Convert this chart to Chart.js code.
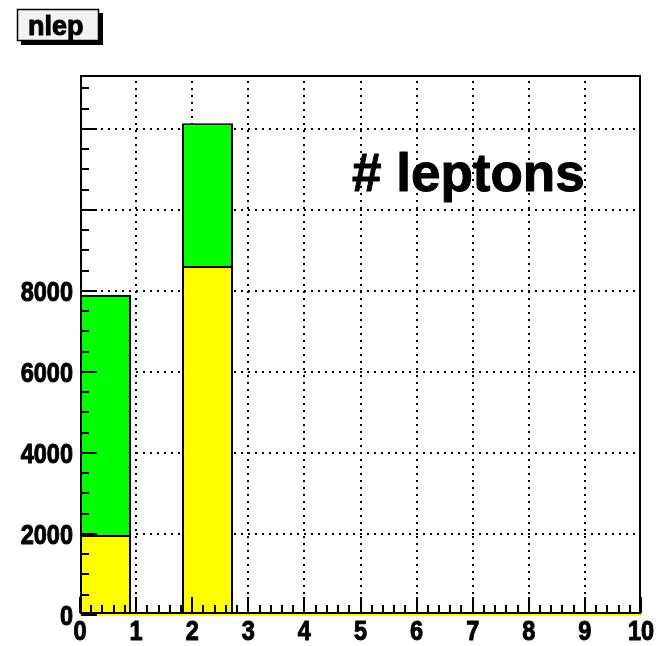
<!DOCTYPE html>
<html>
<head>
<meta charset="utf-8">
<script src="https://cdn.jsdelivr.net/npm/chart.js@4/dist/chart.umd.min.js"></script>
<style>
  html, body { margin: 0; padding: 0; background: #ffffff; }
  #wrap { width: 666px; height: 646px; }
</style>
</head>
<body>
<div id="wrap"><canvas id="c" width="666" height="646"></canvas></div>
<script>
// nlep histogram: 11 bins spanning 0..10
const binLabels = ['b0', 'b1', 'b2', 'b3', 'b4', 'b5', 'b6', 'b7', 'b8', 'b9', 'b10'];
const allEvents = [7900, 0, 12140, 0, 0, 0, 0, 0, 0, 0, 0];
const selectedEvents = [1975, 0, 8620, 0, 0, 0, 0, 0, 0, 0, 0];
const baselineX = [0, 10];
const baselineY = [0, 0];

// axis ticks and labels
const xMajorTicks = [0, 1, 2, 3, 4, 5, 6, 7, 8, 9, 10];
const xTickLabels = ['0', '1', '2', '3', '4', '5', '6', '7', '8', '9', '10'];
const yMajorTicks = [0, 2000, 4000, 6000, 8000, 10000, 12000];
const yTickLabels = ['0', '2000', '4000', '6000', '8000', '', ''];
const xMinorStep = 0.2;
const yMinorStep = 500;
const xRange = [0, 10];
const yRange = [0, 13333];

const titleText = 'nlep';
const histText = '# leptons';

const FONT = '"Liberation Sans", Arial, Helvetica, sans-serif';

function scaledText(ctx, text, x, y, size, sx, align, weight) {
  ctx.save();
  ctx.font = 'bold ' + size + 'px ' + FONT;
  ctx.textBaseline = 'alphabetic';
  const w = ctx.measureText(text).width * sx;
  let left = x;
  if (align === 'right') left = x - w;
  else if (align === 'center') left = x - w / 2;
  ctx.translate(left, y);
  ctx.scale(sx, 1);
  ctx.textAlign = 'left';
  ctx.fillStyle = '#000';
  ctx.fillText(text, 0, 0);
  if (weight) {
    ctx.strokeStyle = '#000';
    ctx.lineWidth = weight;
    ctx.lineJoin = 'round';
    ctx.strokeText(text, 0, 0);
  }
  ctx.restore();
}

const rootFrame = {
  id: 'rootFrame',
  beforeDatasetsDraw(chart) {
    const ctx = chart.ctx;
    const a = chart.chartArea;
    const xs = chart.scales.x, ys = chart.scales.y;
    ctx.save();
    ctx.strokeStyle = '#000';
    ctx.lineWidth = 2;
    ctx.setLineDash([2, 5]);
    xMajorTicks.forEach(v => {
      if (v <= xRange[0] || v >= xRange[1]) return;
      const p = Math.round(xs.getPixelForValue(v));
      ctx.beginPath(); ctx.moveTo(p, a.bottom); ctx.lineTo(p, a.top); ctx.stroke();
    });
    yMajorTicks.forEach(v => {
      if (v <= yRange[0] || v >= yRange[1]) return;
      const p = Math.round(ys.getPixelForValue(v));
      ctx.beginPath(); ctx.moveTo(a.left, p); ctx.lineTo(a.right, p); ctx.stroke();
    });
    ctx.restore();
  },
  afterDatasetsDraw(chart) {
    const ctx = chart.ctx;
    const a = chart.chartArea;
    const xs = chart.scales.x, ys = chart.scales.y;
    ctx.save();
    ctx.strokeStyle = '#000';
    ctx.lineWidth = 2;
    ctx.setLineDash([]);

    // frame
    ctx.beginPath();
    ctx.rect(a.left + 1, a.top + 1, a.right - a.left - 2, a.bottom - a.top - 3);
    ctx.stroke();

    // x ticks (bottom axis, pointing up)
    const yAxis = a.bottom - 2;
    for (let v = xRange[0]; v <= xRange[1] + 1e-9; v += xMinorStep) {
      const isMajor = Math.abs(v - Math.round(v)) < 1e-6;
      const p = Math.round(xs.getPixelForValue(v));
      const len = isMajor ? 16 : 8;
      ctx.beginPath(); ctx.moveTo(p, yAxis); ctx.lineTo(p, yAxis - len); ctx.stroke();
    }
    // y ticks (left axis, pointing right)
    const xAxis = a.left + 1;
    for (let v = yRange[0]; v <= yRange[1]; v += yMinorStep) {
      const isMajor = v % 2000 === 0;
      const p = Math.round(ys.getPixelForValue(v));
      const len = isMajor ? 16 : 8;
      ctx.beginPath(); ctx.moveTo(xAxis, p); ctx.lineTo(xAxis + len, p); ctx.stroke();
    }
    ctx.restore();

    // tick labels
    xMajorTicks.forEach((v, i) => {
      scaledText(ctx, xTickLabels[i], xs.getPixelForValue(v), 640, 28, 0.84, 'center', 1);
    });
    yMajorTicks.forEach((v, i) => {
      if (!yTickLabels[i]) return;
      scaledText(ctx, yTickLabels[i], 73, ys.getPixelForValue(v) + 10, 28, 0.84, 'right', 1);
    });

    // histogram label inside the frame
    scaledText(ctx, histText, 352, 191, 53, 1.0, 'left', 1);

    // title pave with shadow
    ctx.save();
    ctx.fillStyle = '#000';
    ctx.fillRect(21, 13, 82, 32);
    ctx.fillStyle = '#f2f2f2';
    ctx.fillRect(17, 9, 82, 32);
    ctx.strokeStyle = '#000';
    ctx.lineWidth = 1.5;
    ctx.strokeRect(17.5, 9.5, 81, 31);
    ctx.restore();
    scaledText(ctx, titleText, 28, 35, 27, 1.0, 'left', 1);
  }
};

const barStyle = {
  xAxisID: 'xb',
  yAxisID: 'y',
  borderColor: '#000000',
  borderWidth: 2,
  borderSkipped: 'start',
  barPercentage: 1.0,
  categoryPercentage: 1.0,
  grouped: false,
  inflateAmount: 0
};

new Chart(document.getElementById('c'), {
  type: 'bar',
  data: {
    labels: binLabels,
    datasets: [
      {
        type: 'line',
        label: 'baseline',
        data: baselineX.map((x, i) => ({ x: x, y: baselineY[i] })),
        xAxisID: 'x',
        yAxisID: 'y',
        borderColor: '#ffff00',
        borderWidth: 2,
        pointRadius: 0,
        clip: false,
        order: -1
      },
      Object.assign({ label: 'selected', data: selectedEvents, backgroundColor: '#ffff00', order: 0 }, barStyle),
      Object.assign({ label: 'all', data: allEvents, backgroundColor: '#00ff00', order: 1 }, barStyle)
    ]
  },
  options: {
    responsive: false,
    animation: false,
    devicePixelRatio: 1,
    layout: { padding: { left: 80, top: 75, right: 25, bottom: 31 } },
    plugins: { legend: { display: false }, tooltip: { enabled: false }, title: { display: false } },
    scales: {
      x: { type: 'linear', min: xRange[0], max: xRange[1], offset: false, display: false, grid: { offset: false } },
      xb: { type: 'category', offset: true, display: false },
      y: { type: 'linear', min: yRange[0], max: yRange[1], display: false }
    }
  },
  plugins: [rootFrame]
});
</script>
</body>
</html>
